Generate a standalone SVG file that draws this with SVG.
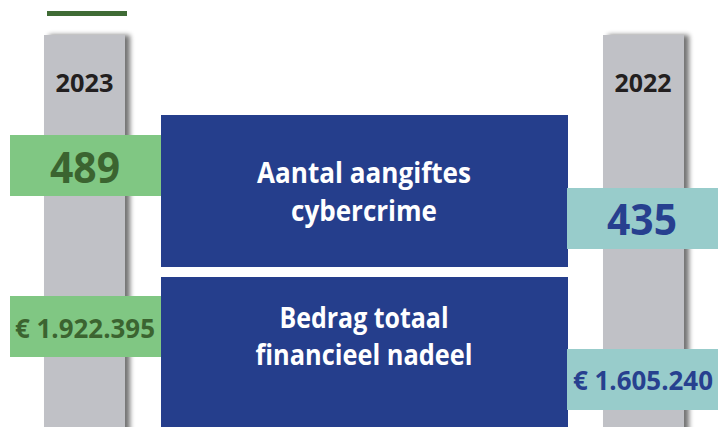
<svg xmlns="http://www.w3.org/2000/svg" width="718" height="427" viewBox="0 0 718 427">
<style>
  .t{font-family:"Open Sans","Liberation Sans",sans-serif;font-weight:bold;text-anchor:middle}
  .yr{font-size:25px;fill:#231f20}
  .lbl{font-size:28px;fill:#ffffff}
  .g{fill:#3b6430}
  .b{fill:#27408f}
  .bar{fill:#c0c1c6}
  .blue{fill:#253e8c}
  .green{fill:#80c783}
  .teal{fill:#98cccb}
</style>
<defs>
  <filter id="sh" x="-30%" y="-10%" width="160%" height="120%">
    <feGaussianBlur in="SourceAlpha" stdDeviation="2.5"/>
    <feOffset dx="5" dy="0"/>
    <feComponentTransfer><feFuncA type="linear" slope="0.55"/></feComponentTransfer>
    <feMerge><feMergeNode/><feMergeNode in="SourceGraphic"/></feMerge>
  </filter>
</defs>
<rect x="0" y="0" width="718" height="427" fill="#ffffff"/>
<rect x="47" y="11" width="80" height="5" fill="#3f6b35"/>
<g id="bar2023">
  <rect class="bar" x="44" y="35" width="81" height="400" filter="url(#sh)"/>
  <text class="t yr" x="84.5" y="92" textLength="58" lengthAdjust="spacingAndGlyphs">2023</text>
</g>
<g id="bar2022">
  <rect class="bar" x="603" y="35" width="81" height="400" filter="url(#sh)"/>
  <text class="t yr" x="643" y="92" textLength="57" lengthAdjust="spacingAndGlyphs">2022</text>
</g>
<g id="v2023a">
  <rect class="green" x="10" y="135" width="152" height="61"/>
  <text class="t g" x="85" y="183" font-size="43" textLength="70" lengthAdjust="spacingAndGlyphs">489</text>
</g>
<g id="v2023b">
  <rect class="green" x="10" y="296" width="152" height="61"/>
  <text class="t g" x="85" y="338" font-size="27" textLength="140" lengthAdjust="spacingAndGlyphs">€ 1.922.395</text>
</g>
<g id="aangiftes">
  <rect class="blue" x="161" y="115" width="407" height="152"/>
  <text class="t lbl" x="364" y="183" textLength="214" lengthAdjust="spacingAndGlyphs">Aantal aangiftes</text>
  <text class="t lbl" x="364" y="221" textLength="146" lengthAdjust="spacingAndGlyphs">cybercrime</text>
</g>
<g id="nadeel">
  <rect class="blue" x="161" y="277" width="407" height="150"/>
  <text class="t lbl" x="364" y="328" textLength="169" lengthAdjust="spacingAndGlyphs">Bedrag totaal</text>
  <text class="t lbl" x="364" y="365" textLength="217" lengthAdjust="spacingAndGlyphs">financieel nadeel</text>
</g>
<g id="v2022a">
  <rect class="teal" x="567" y="188" width="151" height="61"/>
  <text class="t b" x="642" y="235" font-size="43" textLength="70" lengthAdjust="spacingAndGlyphs">435</text>
</g>
<g id="v2022b">
  <rect class="teal" x="567" y="349" width="151" height="61"/>
  <text class="t b" x="643" y="390" font-size="27" textLength="140" lengthAdjust="spacingAndGlyphs">€ 1.605.240</text>
</g>
<g id="connectors"/>
</svg>
